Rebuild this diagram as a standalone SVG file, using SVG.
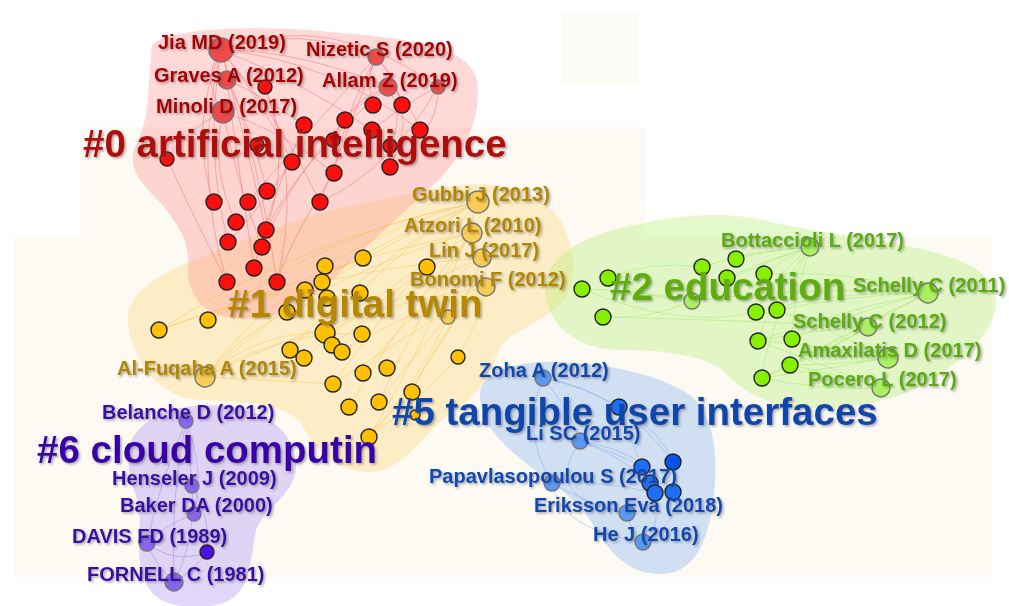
<svg xmlns="http://www.w3.org/2000/svg" width="1009" height="606" viewBox="0 0 1009 606">
<defs>
<filter id="sh" x="-5%" y="-30%" width="112%" height="170%">
<feDropShadow dx="1.6" dy="1.6" stdDeviation="0.8" flood-color="#555" flood-opacity="0.5"/>
</filter>
<style>
text{font-family:"Liberation Sans",Arial,sans-serif;font-weight:bold}
.nl{font-size:20px}
.cl{font-size:38.5px}
.hull{stroke:none}
.n{stroke:#222;stroke-width:1.4}
.lt{stroke:#777;stroke-width:1.4}
.cr path{fill:none;stroke:#f05a5a;stroke-width:0.8;stroke-opacity:0.5}
.cy path{fill:none;stroke:#f3bd3a;stroke-width:0.8;stroke-opacity:0.5}
.cg path{fill:none;stroke:#9ee860;stroke-width:0.8;stroke-opacity:0.6}
.cb path{fill:none;stroke:#7eaaf0;stroke-width:0.8;stroke-opacity:0.6}
.cp path{fill:none;stroke:#9a80f0;stroke-width:0.8;stroke-opacity:0.6}
.red circle.n{fill:#ff0d0d}.red circle.lt{fill:#f04a4a}
.yel circle.n{fill:#ffc000}.yel circle.lt{fill:#f9cd55}
.grn circle.n{fill:#86f000}.grn circle.lt{fill:#aaf060}
.blu circle.n{fill:#1e6ff5}.blu circle.lt{fill:#5a98f2}
.pur circle.n{fill:#4e12e6}.pur circle.lt{fill:#8a66ee}
</style>
</defs>
<rect width="1009" height="606" fill="#ffffff"/>
<g id="background">
<rect x="562" y="14" width="76" height="70" fill="#f6ecd2" opacity="0.22"/>
<rect x="80" y="127" width="565" height="110" fill="#f6ecd2" opacity="0.25"/>
<rect x="13" y="237" width="979" height="340" fill="#f6ecd2" opacity="0.25"/>
</g>
<g id="hulls">
<path class="hull" fill="#ffcb50" fill-opacity="0.28" d="M128,322 C124,290 170,268 210,254 C245,240 300,214 380,200 C430,190 470,178 512,188 C560,200 578,240 572,282 C566,318 512,326 498,350 C490,382 470,402 442,420 C420,440 400,472 370,472 C330,472 312,442 300,422 C282,402 240,402 200,400 C160,398 132,362 128,322 Z"/>
<path class="hull" fill="#ff8a8a" fill-opacity="0.33" d="M152,45 C170,25 280,26 330,32 C400,38 472,44 477,82 C482,120 462,160 432,186 C402,214 362,250 332,280 C302,310 272,322 232,318 C202,315 186,292 188,266 C190,240 176,222 160,202 C140,182 124,166 138,140 C150,118 148,80 152,45 Z"/>
<path class="hull" fill="#b6f07a" fill-opacity="0.38" d="M545,290 C545,250 600,230 640,224 C680,214 730,212 762,220 C802,230 852,235 902,245 C962,256 996,272 996,302 C996,332 962,360 932,380 C902,400 852,410 802,408 C762,405 742,390 722,370 C702,355 662,350 622,350 C582,350 548,330 545,290 Z"/>
<path class="hull" fill="#8fb6f2" fill-opacity="0.4" d="M480,395 C480,370 520,360 560,362 C610,364 660,375 690,395 C715,415 720,460 712,510 C705,550 690,574 660,574 C630,574 610,555 590,520 C570,490 530,470 505,445 C490,430 480,415 480,395 Z"/>
<path class="hull" fill="#b29cf2" fill-opacity="0.4" d="M128,456 C128,425 165,405 210,405 C260,405 296,430 296,465 C296,495 266,505 256,530 C250,560 252,590 226,602 C200,612 160,607 150,590 C135,570 140,540 140,515 C138,495 128,480 128,456 Z"/>
</g>
<g id="connectors">
<g class="cr">
<path d="M221,50 Q330,8 438,87"/>
<path d="M221,50 Q200,80 223,112"/>
<path d="M221,50 Q188,130 214,202"/>
<path d="M221,50 Q204,150 228,242"/>
<path d="M221,50 Q192,170 227,282"/>
<path d="M221,50 Q246,140 266,230"/>
<path d="M221,50 Q262,170 277,282"/>
<path d="M221,50 Q300,24 376,57"/>
<path d="M221,50 Q300,50 388,87"/>
<path d="M221,50 Q300,80 372,130"/>
<path d="M221,50 Q262,100 292,162"/>
<path d="M221,50 Q282,120 320,202"/>
<path d="M221,50 Q330,60 420,130"/>
<path d="M227,80 Q252,130 267,191"/>
<path d="M227,80 Q240,180 254,268"/>
<path d="M227,80 Q262,95 304,125"/>
<path d="M223,112 Q210,170 236,222"/>
<path d="M223,112 Q236,180 262,247"/>
<path d="M223,112 Q282,130 334,173"/>
<path d="M223,112 Q185,130 167,159"/>
<path d="M376,57 Q365,80 373,105"/>
<path d="M376,57 Q395,75 402,105"/>
<path d="M376,57 Q422,110 390,167"/>
<path d="M376,57 Q345,110 334,173"/>
<path d="M376,57 Q352,120 320,202"/>
<path d="M376,57 Q300,140 248,202"/>
<path d="M388,87 Q405,115 390,146"/>
<path d="M388,87 Q410,100 420,130"/>
<path d="M388,87 Q360,95 345,120"/>
<path d="M388,87 Q345,110 333,140"/>
<path d="M388,87 Q300,160 266,230"/>
<path d="M438,87 Q440,130 390,167"/>
<path d="M438,87 Q410,100 372,130"/>
<path d="M438,87 Q390,170 320,202"/>
<path d="M265,87 Q292,160 266,230"/>
<path d="M265,87 Q302,180 277,282"/>
<path d="M304,125 Q270,200 254,268"/>
<path d="M345,120 Q290,180 262,247"/>
<path d="M167,159 Q200,230 227,282"/>
<path d="M292,162 Q250,220 228,242"/>
<path d="M334,173 Q290,240 277,282"/>
</g>
<g class="cy">
<path d="M478,202 Q330,230 208,320"/>
<path d="M478,202 Q300,240 159,330"/>
<path d="M478,202 Q390,250 325,333"/>
<path d="M478,202 Q370,260 290,350"/>
<path d="M478,202 Q320,270 205,377"/>
<path d="M478,202 Q400,290 333,384"/>
<path d="M478,202 Q440,320 369,437"/>
<path d="M478,202 Q400,220 325,266"/>
<path d="M478,202 Q380,240 305,290"/>
<path d="M472,233 Q330,260 208,320"/>
<path d="M472,233 Q380,290 304,358"/>
<path d="M472,233 Q420,310 379,402"/>
<path d="M472,233 Q400,320 349,407"/>
<path d="M472,233 Q370,260 287,312"/>
<path d="M482,258 Q400,290 332,345"/>
<path d="M482,258 Q420,300 363,373"/>
<path d="M482,258 Q320,270 159,330"/>
<path d="M482,258 Q450,350 369,437"/>
<path d="M486,287 Q410,310 342,352"/>
<path d="M486,287 Q340,310 205,377"/>
<path d="M486,287 Q440,330 412,392"/>
<path d="M486,287 Q400,340 333,384"/>
<path d="M486,287 Q480,320 458,357"/>
<path d="M205,377 Q260,330 325,333"/>
<path d="M205,377 Q280,330 362,334"/>
<path d="M205,377 Q270,300 360,293"/>
<path d="M205,377 Q270,290 363,258"/>
<path d="M205,377 Q270,380 333,384"/>
<path d="M448,317 Q420,380 369,437"/>
<path d="M448,317 Q410,360 379,402"/>
<path d="M458,357 Q420,400 369,437"/>
<path d="M427,267 Q360,320 325,333"/>
<path d="M159,330 Q240,300 305,290"/>
</g>
<g class="cg">
<path d="M810,247 Q770,250 736,259"/>
<path d="M810,247 Q780,260 764,274"/>
<path d="M810,247 Q770,280 756,312"/>
<path d="M810,247 Q770,300 758,341"/>
<path d="M810,247 Q790,310 790,365"/>
<path d="M810,247 Q770,320 762,378"/>
<path d="M810,247 Q740,270 692,301"/>
<path d="M810,247 Q760,262 727,278"/>
<path d="M810,247 Q750,250 702,267"/>
<path d="M928,293 Q840,290 756,312"/>
<path d="M928,293 Q850,295 777,310"/>
<path d="M928,293 Q840,310 758,341"/>
<path d="M928,293 Q860,310 792,339"/>
<path d="M928,293 Q850,330 790,365"/>
<path d="M928,293 Q840,340 762,378"/>
<path d="M928,293 Q850,270 764,274"/>
<path d="M928,293 Q810,285 692,301"/>
<path d="M868,327 Q810,315 756,312"/>
<path d="M868,327 Q810,330 758,341"/>
<path d="M868,327 Q830,350 790,365"/>
<path d="M868,327 Q810,360 762,378"/>
<path d="M868,327 Q740,320 603,317"/>
<path d="M888,358 Q820,345 758,341"/>
<path d="M888,358 Q840,365 790,365"/>
<path d="M888,358 Q820,370 762,378"/>
<path d="M888,358 Q830,330 777,310"/>
<path d="M881,388 Q820,390 762,378"/>
<path d="M881,388 Q840,375 790,365"/>
<path d="M881,388 Q810,360 758,341"/>
<path d="M692,301 Q650,300 608,278"/>
<path d="M692,301 Q640,290 582,289"/>
<path d="M692,301 Q650,320 603,317"/>
<path d="M608,278 Q650,260 702,267"/>
<path d="M582,289 Q680,330 756,312"/>
</g>
<g class="cb">
<path d="M543,378 Q570,410 580,441"/>
<path d="M543,378 Q580,385 619,407"/>
<path d="M543,378 Q520,430 552,483"/>
<path d="M543,378 Q620,390 673,462"/>
<path d="M619,407 Q660,430 673,462"/>
<path d="M619,407 Q630,440 642,467"/>
<path d="M580,441 Q610,450 642,467"/>
<path d="M580,441 Q620,455 650,483"/>
<path d="M580,441 Q640,450 673,492"/>
<path d="M552,483 Q590,505 627,513"/>
<path d="M552,483 Q600,480 655,493"/>
<path d="M552,483 Q560,530 643,542"/>
<path d="M627,513 Q630,530 643,542"/>
<path d="M642,467 Q670,520 643,542"/>
<path d="M673,462 Q690,520 643,542"/>
<path d="M580,441 Q540,500 627,513"/>
</g>
<g class="cp">
<path d="M186,421 Q190,455 192,486"/>
<path d="M186,421 Q205,470 194,514"/>
<path d="M186,421 Q160,480 147,543"/>
<path d="M192,486 Q212,520 207,552"/>
<path d="M194,514 Q165,525 147,543"/>
<path d="M147,543 Q175,565 207,552"/>
<path d="M147,543 Q155,565 174,582"/>
<path d="M207,552 Q195,570 174,582"/>
<path d="M186,421 Q170,500 174,582"/>
<path d="M192,486 Q196,540 174,582"/>
</g>
</g>
<g id="cluster0" class="red">
<circle class="lt" cx="221" cy="50" r="12"/>
<circle class="lt" cx="227" cy="80" r="9"/>
<circle class="n" cx="265" cy="87" r="7"/>
<circle class="lt" cx="376" cy="57" r="8"/>
<circle class="lt" cx="388" cy="87" r="9"/>
<circle class="lt" cx="438" cy="87" r="7"/>
<circle class="lt" cx="223" cy="112" r="11"/>
<circle class="n" cx="373" cy="105" r="8"/>
<circle class="n" cx="402" cy="105" r="8"/>
<circle class="n" cx="304" cy="125" r="8"/>
<circle class="n" cx="345" cy="120" r="8"/>
<circle class="n" cx="372" cy="130" r="8"/>
<circle class="n" cx="420" cy="130" r="8"/>
<circle class="n" cx="257" cy="145" r="7"/>
<circle class="n" cx="333" cy="140" r="7"/>
<circle class="n" cx="390" cy="146" r="7"/>
<circle class="n" cx="167" cy="159" r="7"/>
<circle class="n" cx="292" cy="162" r="8"/>
<circle class="n" cx="334" cy="173" r="8"/>
<circle class="n" cx="390" cy="167" r="8"/>
<circle class="n" cx="267" cy="191" r="8"/>
<circle class="n" cx="214" cy="202" r="8"/>
<circle class="n" cx="248" cy="202" r="8"/>
<circle class="n" cx="320" cy="202" r="8"/>
<circle class="n" cx="236" cy="222" r="8"/>
<circle class="n" cx="266" cy="230" r="8"/>
<circle class="n" cx="228" cy="242" r="8"/>
<circle class="n" cx="262" cy="247" r="8"/>
<circle class="n" cx="254" cy="268" r="8"/>
<circle class="n" cx="227" cy="282" r="8"/>
<circle class="n" cx="277" cy="282" r="8"/>
</g>
<g id="cluster1" class="yel">
<circle class="lt" cx="478" cy="202" r="11"/>
<circle class="lt" cx="472" cy="233" r="10"/>
<circle class="lt" cx="482" cy="258" r="9"/>
<circle class="n" cx="427" cy="267" r="8"/>
<circle class="lt" cx="486" cy="287" r="9"/>
<circle class="n" cx="363" cy="258" r="8"/>
<circle class="n" cx="325" cy="266" r="8"/>
<circle class="n" cx="322" cy="282" r="8"/>
<circle class="n" cx="360" cy="293" r="8"/>
<circle class="n" cx="305" cy="290" r="8"/>
<circle class="n" cx="287" cy="312" r="8"/>
<circle class="n" cx="327" cy="298" r="8"/>
<circle class="lt" cx="448" cy="317" r="7"/>
<circle class="n" cx="208" cy="320" r="8"/>
<circle class="n" cx="159" cy="330" r="8"/>
<circle class="n" cx="325" cy="333" r="10"/>
<circle class="n" cx="362" cy="334" r="8"/>
<circle class="n" cx="332" cy="345" r="8"/>
<circle class="n" cx="342" cy="352" r="8"/>
<circle class="n" cx="290" cy="350" r="8"/>
<circle class="n" cx="304" cy="358" r="8"/>
<circle class="n" cx="458" cy="357" r="7"/>
<circle class="lt" cx="205" cy="377" r="10"/>
<circle class="n" cx="363" cy="373" r="8"/>
<circle class="n" cx="387" cy="368" r="8"/>
<circle class="n" cx="333" cy="384" r="8"/>
<circle class="n" cx="412" cy="392" r="8"/>
<circle class="n" cx="379" cy="402" r="8"/>
<circle class="n" cx="349" cy="407" r="8"/>
<circle class="n" cx="369" cy="437" r="8"/>
<circle class="n" cx="415" cy="415" r="5"/>
</g>
<g id="cluster2" class="grn">
<circle class="lt" cx="810" cy="247" r="9"/>
<circle class="n" cx="736" cy="259" r="8"/>
<circle class="n" cx="702" cy="267" r="8"/>
<circle class="n" cx="764" cy="274" r="8"/>
<circle class="n" cx="727" cy="278" r="8"/>
<circle class="n" cx="608" cy="278" r="8"/>
<circle class="n" cx="582" cy="289" r="8"/>
<circle class="lt" cx="692" cy="301" r="8"/>
<circle class="n" cx="603" cy="317" r="8"/>
<circle class="lt" cx="928" cy="293" r="10"/>
<circle class="n" cx="756" cy="312" r="8"/>
<circle class="n" cx="777" cy="310" r="8"/>
<circle class="lt" cx="868" cy="327" r="9"/>
<circle class="n" cx="758" cy="341" r="8"/>
<circle class="n" cx="792" cy="339" r="8"/>
<circle class="lt" cx="888" cy="358" r="10"/>
<circle class="n" cx="790" cy="365" r="8"/>
<circle class="n" cx="762" cy="378" r="8"/>
<circle class="lt" cx="881" cy="388" r="9"/>
</g>
<g id="cluster5" class="blu">
<circle class="lt" cx="543" cy="378" r="8"/>
<circle class="n" cx="619" cy="407" r="8"/>
<circle class="lt" cx="580" cy="441" r="8"/>
<circle class="n" cx="673" cy="462" r="8" style="fill:#0a55e8"/>
<circle class="n" cx="642" cy="467" r="8"/>
<circle class="lt" cx="552" cy="483" r="8"/>
<circle class="n" cx="650" cy="483" r="8"/>
<circle class="n" cx="655" cy="493" r="8"/>
<circle class="n" cx="673" cy="492" r="8"/>
<circle class="lt" cx="627" cy="513" r="8"/>
<circle class="lt" cx="643" cy="542" r="8"/>
</g>
<g id="cluster6" class="pur">
<circle class="lt" cx="186" cy="421" r="7"/>
<circle class="lt" cx="192" cy="486" r="7"/>
<circle class="lt" cx="194" cy="514" r="7"/>
<circle class="lt" cx="147" cy="543" r="8"/>
<circle class="n" cx="207" cy="552" r="7"/>
<circle class="lt" cx="174" cy="582" r="9"/>
</g>
<g id="labels" filter="url(#sh)">
<g fill="#a80000">
<text class="nl" x="158" y="49">Jia MD (2019)</text>
<text class="nl" x="306" y="56">Nizetic S (2020)</text>
<text class="nl" x="154" y="82">Graves A (2012)</text>
<text class="nl" x="322" y="87">Allam Z (2019)</text>
<text class="nl" x="156" y="113">Minoli D (2017)</text>
</g>
<g fill="#b38600">
<text class="nl" x="412" y="201">Gubbi J (2013)</text>
<text class="nl" x="404" y="232">Atzori L (2010)</text>
<text class="nl" x="429" y="257">Lin J (2017)</text>
<text class="nl" x="410" y="286">Bonomi F (2012)</text>
<text class="nl" x="117" y="375">Al-Fuqaha A (2015)</text>
</g>
<g fill="#5aad08">
<text class="nl" x="721" y="247">Bottaccioli L (2017)</text>
<text class="nl" x="853" y="292">Schelly C (2011)</text>
<text class="nl" x="793" y="328">Schelly C (2012)</text>
<text class="nl" x="798" y="357">Amaxilatis D (2017)</text>
<text class="nl" x="808" y="386">Pocero L (2017)</text>
</g>
<g fill="#0c48b0">
<text class="nl" x="479" y="377">Zoha A (2012)</text>
<text class="nl" x="526" y="440">Li SC (2015)</text>
<text class="nl" x="429" y="483">Papavlasopoulou S (2017)</text>
<text class="nl" x="534" y="512">Eriksson Eva (2018)</text>
<text class="nl" x="593" y="541">He J (2016)</text>
</g>
<g fill="#3a08a8">
<text class="nl" x="102" y="419">Belanche D (2012)</text>
<text class="nl" x="112" y="485">Henseler J (2009)</text>
<text class="nl" x="120" y="512">Baker DA (2000)</text>
<text class="nl" x="72" y="543">DAVIS FD (1989)</text>
<text class="nl" x="87" y="581">FORNELL C (1981)</text>
</g>
<text class="cl" x="83" y="157" fill="#b00808">#0 artificial intelligence</text>
<text class="cl" x="228" y="317" fill="#b58800">#1 digital twin</text>
<text class="cl" x="610" y="300" fill="#5eae08">#2 education</text>
<text class="cl" x="392" y="425" fill="#0b47ad">#5 tangible user interfaces</text>
<text class="cl" x="37" y="463" fill="#3a06a8">#6 cloud computin</text>
</g>
</svg>
